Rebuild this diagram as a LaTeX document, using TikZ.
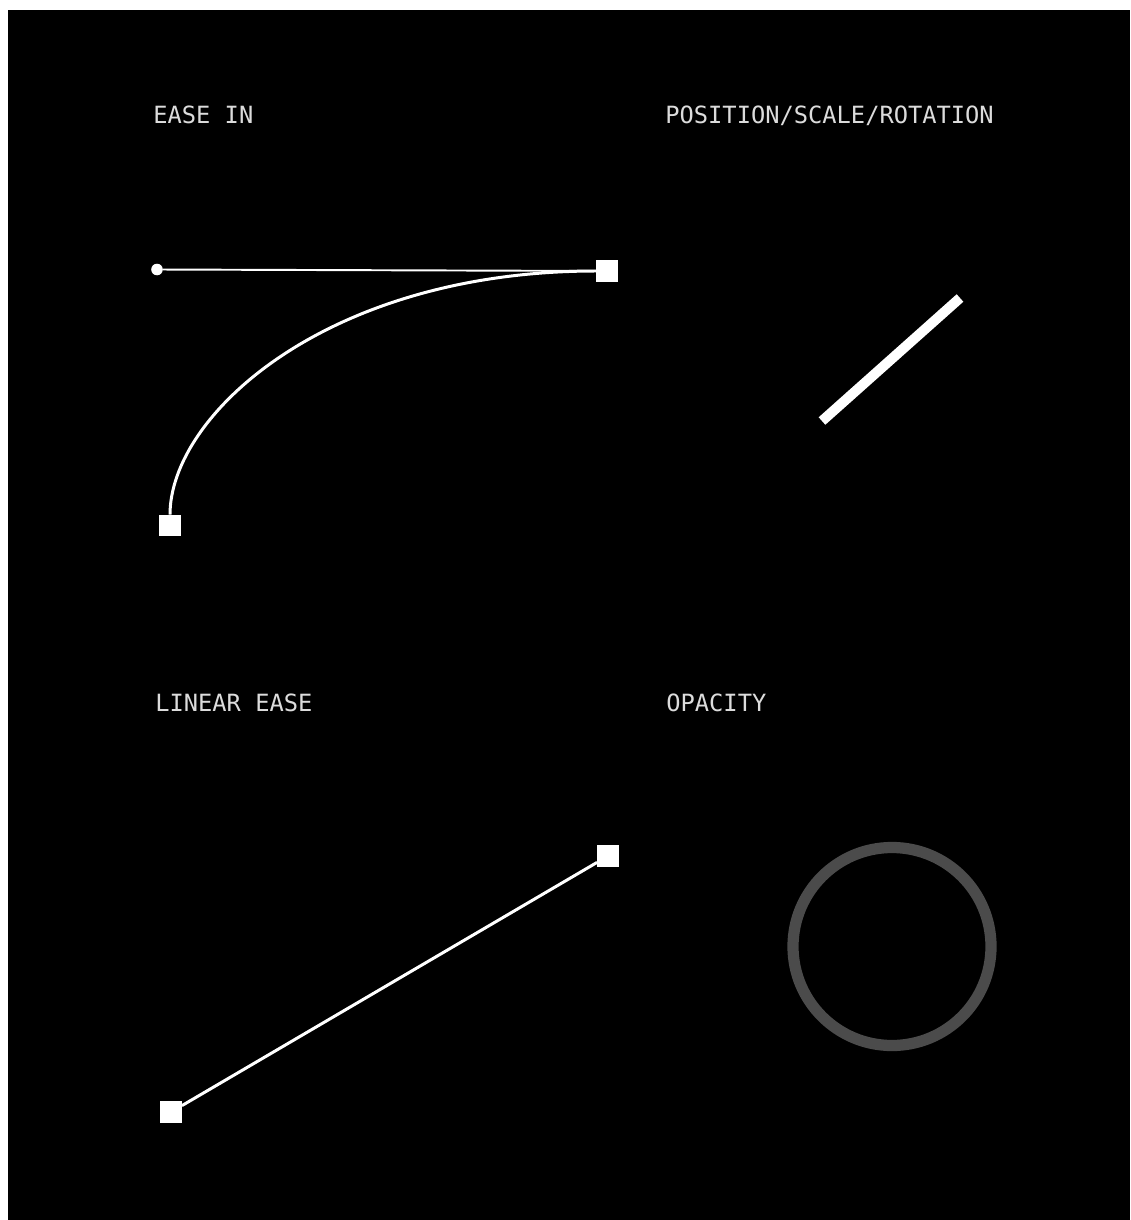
\documentclass[tikz,border=0pt]{standalone}
\usepackage{fontspec}
\setmonofont{DejaVu Sans Mono}
\usepackage{xcolor}
\usetikzlibrary{positioning}
\definecolor{ezlight}{HTML}{DCDCDC}
\definecolor{ezfaded}{HTML}{4B4B4B}
\tikzset{
 ez curve/.style={white,line width=1.7pt},
 ez handle/.style={white,line width=1.1pt},
 ez key/.style={rectangle,fill=white,minimum size=12.4pt,
                inner sep=0pt,outer sep=0pt},
 ez dot/.style={circle,fill=white,minimum size=6.6pt,
                inner sep=0pt,outer sep=0pt},
 ez label/.style={anchor=base west,inner sep=0pt,text=ezlight,
                  font=\ttfamily\fontsize{13.5}{16}\selectfont}
}

\begin{document}
\begin{tikzpicture}[x=.02cm,y=-.02cm]
 % one unit is one pixel of the 1130x1220 frame, y grows downwards
 \fill[white] (0,0) rectangle (1130,1220);
 \fill[black] (8,10) rectangle (1130,1220);
 \useasboundingbox (0,0) rectangle (1130,1220);

 \node[ez label] (lab ease) at (153,124) {EASE IN};
 \node[ez label] (lab psr) at (665,124) {POSITION/SCALE/ROTATION};
 \node[ez label] (lab lin) at (155,711) {LINEAR EASE};
 \node[ez label] (lab opa) at (666,711) {OPACITY};

 % ease in: key frames, handle and the eased path
 \node[ez key] (k1) at (170,525.5) {};
 \node[ez key] (k2) at (607,271) {};
 \node[ez dot] (h1) at (157,269.5) {};
 \draw[ez handle] (h1)--(k2);
 \draw[ez curve] (k1) .. controls (170,415) and (327,271) .. (k2);

 % linear ease
 \node[ez key] (k3) at (171,1112) {};
 \node[ez key] (k4) at (608,856) {};
 \draw[ez curve] (k3)--(k4);

 % position/scale/rotation
 \coordinate (bar a) at (822,421);
 \coordinate (bar b) at (960,298);
 \draw[white,line width=5.7pt] (bar a)--(bar b);

 % opacity
 \draw[ezfaded,line width=6.4pt] (892,946.5) circle (99);
\end{tikzpicture}
\end{document}
